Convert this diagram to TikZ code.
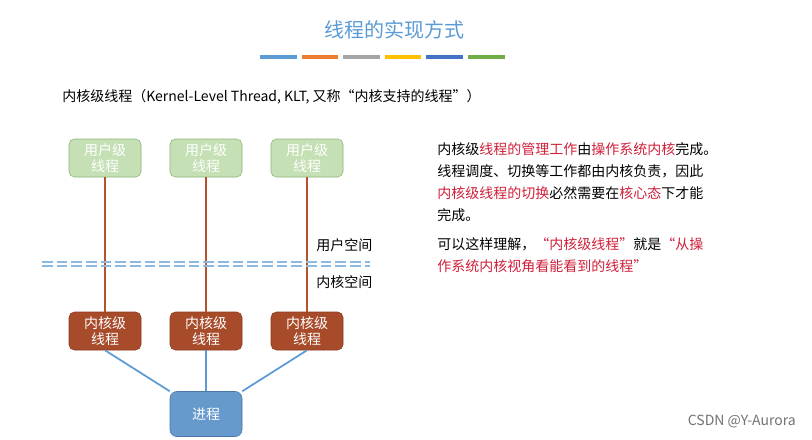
\documentclass[tikz,border=0pt]{standalone}
\usepackage{fontspec}
\setmainfont{Noto Sans CJK SC}
\definecolor{ttl}{HTML}{5B9BD5}
\definecolor{ugfill}{HTML}{C5E0B4}
\definecolor{ugdraw}{HTML}{8DB37A}
\definecolor{kfill}{HTML}{A84B2A}
\definecolor{kdraw}{HTML}{8A3A1E}
\definecolor{pfill}{HTML}{6699CC}
\definecolor{pdraw}{HTML}{4A78A8}
\definecolor{hl}{HTML}{D0203A}
\definecolor{vline}{HTML}{B5522B}
\definecolor{bline}{HTML}{5B9BD5}
\begin{document}
\begin{tikzpicture}[x=0.75pt,y=-0.75pt,
  ubox/.style={draw=ugdraw,fill=ugfill,rounded corners=4pt,minimum width=54pt,minimum height=28.5pt,text=white,font=\fontsize{10.5}{12}\selectfont,align=center,inner sep=1pt},
  kbox/.style={draw=kdraw,fill=kfill,rounded corners=4pt,minimum width=54pt,minimum height=28.5pt,text=white,font=\fontsize{10.5}{12}\selectfont,align=center,inner sep=1pt},
  pbox/.style={draw=pdraw,fill=pfill,rounded corners=5pt,minimum width=54pt,minimum height=33.75pt,text=white,font=\fontsize{10.5}{12}\selectfont},
  bar/.style={line width=2.5pt},
  body/.style={font=\fontsize{10.5}{16.5}\selectfont,anchor=north west,inner sep=0pt,align=left}]
\useasboundingbox (0,0) rectangle (812,439);
\fill[white] (0,0) rectangle (812,439);
\node[text=ttl,font=\fontsize{15}{18}\selectfont] (title) at (394,30) {线程的实现方式};
\draw[bar,color=ttl] (260,57)--(297,57);
\draw[bar,color={rgb,255:red,237;green,125;blue,49}] (302,57)--(338,57);
\draw[bar,color={rgb,255:red,165;green,165;blue,165}] (343,57)--(380,57);
\draw[bar,color={rgb,255:red,255;green,192;blue,0}] (385,57)--(421,57);
\draw[bar,color={rgb,255:red,68;green,114;blue,196}] (426,57)--(463,57);
\draw[bar,color={rgb,255:red,112;green,173;blue,71}] (468,57)--(505,57);
\node[anchor=west,inner sep=0pt,font=\fontsize{10.5}{12}\selectfont] (sub) at (62,97) {内核级线程（Kernel-Level Thread, KLT, 又称“内核支持的线程”）};
\node[ubox] (u1) at (105,158) {用户级\\线程};
\node[ubox] (u2) at (206,158) {用户级\\线程};
\node[ubox] (u3) at (307,158) {用户级\\线程};
\node[kbox] (k1) at (105,331) {内核级\\线程};
\node[kbox] (k2) at (206,331) {内核级\\线程};
\node[kbox] (k3) at (307,331) {内核级\\线程};
\node[pbox] (p) at (206,414) {进程};
\foreach \i in {1,2,3}{\draw[vline,line width=1.3pt] (u\i.south)--(k\i.north);}
\draw[bline,line width=1.3pt] (k1.south)--(p.north west);
\draw[bline,line width=1.3pt] (k2.south)--(p.north);
\draw[bline,line width=1.3pt] (k3.south)--(p.north east);
\coordinate (dl) at (42,262); \coordinate (dr) at (370,262);
\coordinate (dl2) at (42,266); \coordinate (dr2) at (370,266);
\draw[ttl!70,line width=1.3pt,dash pattern=on 8pt off 3pt] (dl)--(dr) (dl2)--(dr2);
\node[anchor=west,inner sep=0pt,font=\fontsize{10.5}{12}\selectfont] (us) at (316,245) {用户空间};
\node[anchor=west,inner sep=0pt,font=\fontsize{10.5}{12}\selectfont] (ks) at (316,282) {内核空间};
\node[body] (t1) at (437,142) {内核级\textcolor{hl}{线程的管理工作}由\textcolor{hl}{操作系统内核}完成。\\
线程调度、切换等工作都由内核负责，因此\\
\textcolor{hl}{内核级线程的切换}必然需要在\textcolor{hl}{核心态}下才能\\
完成。};
\node[body] (t2) at (437,237) {可以这样理解，\textcolor{hl}{“内核级线程”}就是\textcolor{hl}{“从操}\\
\textcolor{hl}{作系统内核视角看能看到的线程”}};
\node[anchor=east,inner sep=0pt,text=black!55,font=\fontsize{10.5}{12}\selectfont] (wm) at (796,421) {CSDN @Y-Aurora};
\end{tikzpicture}
\end{document}
